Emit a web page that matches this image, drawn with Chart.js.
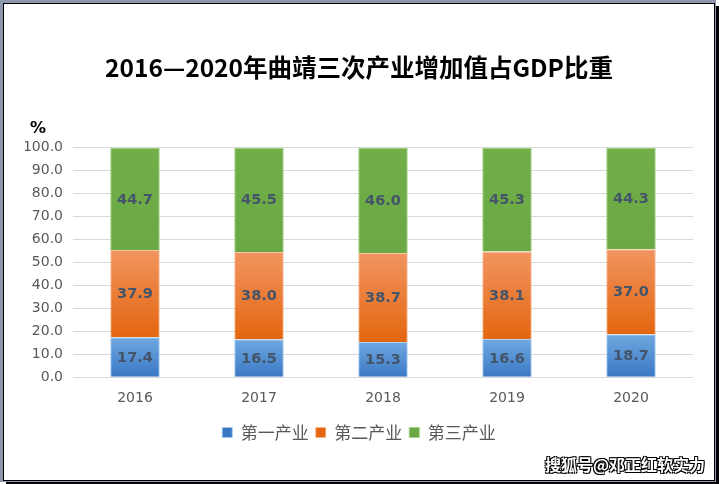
<!DOCTYPE html>
<html>
<head>
<meta charset="utf-8">
<script src="https://cdn.jsdelivr.net/npm/chart.js@4"></script>
<style>
    body { margin: 0; background: #fff; }
    #wrap { position: relative; width: 719px; height: 484px; overflow: hidden; }
    .shadow { position: absolute; left: 6px; top: 6px; width: 713px; height: 478px; background: #000; }
    .frame { position: absolute; left: 0; top: 0; width: 716px; height: 482px; background: #8e96ad; }
    .inner { position: absolute; left: 3px; top: 3px; width: 710px; height: 476px; background: #fff; border: 1px solid #000; }
    #chartBox { position: absolute; left: 4px; top: 4px; width: 710px; height: 476px; }
    .mark {
        position: absolute; right: 14px; bottom: 8px;
        font: bold 16px "Noto Sans CJK SC", sans-serif; color: #fff;
        text-shadow: -1px -1px 0 #000, 1px -1px 0 #000, -1px 1px 0 #000, 1px 1px 0 #000;
    }
</style>
</head>
<body>
<div id="wrap">
    <div class="shadow"></div>
    <div class="frame"></div>
    <div class="inner"></div>
    <div id="chartBox"><canvas id="chart" width="710" height="476"></canvas></div>
    <div class="mark">搜狐号@邓正红软实力</div>
</div>
<script>
// 数据
const years = ['2016', '2017', '2018', '2019', '2020'];
const seriesNames = ['第一产业', '第二产业', '第三产业'];
const primary = [17.4, 16.5, 15.3, 16.6, 18.7];
const secondary = [37.9, 38.0, 38.7, 38.1, 37.0];
const tertiary = [44.7, 45.5, 46.0, 45.3, 44.3];
const yMin = 0, yMax = 100, yStep = 10;

const allSeries = [primary, secondary, tertiary];

// degradado por segmento (arriba claro, abajo oscuro)
function segGradient(top, bottom, mid) {
    return function(c) {
        const chart = c.chart;
        if (!chart.chartArea || c.type !== 'data') return mid;
        const y = chart.scales.y;
        const i = c.dataIndex, d = c.datasetIndex;
        let base = 0;
        for (let k = 0; k < d; k++) base += allSeries[k][i];
        const y0 = y.getPixelForValue(base);
        const y1 = y.getPixelForValue(base + allSeries[d][i]);
        const g = chart.ctx.createLinearGradient(0, y1, 0, y0);
        g.addColorStop(0, top);
        g.addColorStop(1, bottom);
        return g;
    };
}

// etiquetas dentro de las barras + "%"
const labelsPlugin = {
    id: 'barLabels',
    afterDatasetsDraw(chart) {
        const ctx = chart.ctx;
        ctx.save();
        ctx.font = 'bold 14.5px "DejaVu Sans", sans-serif';
        ctx.fillStyle = '#44546a';
        ctx.textAlign = 'center';
        ctx.textBaseline = 'middle';
        chart.data.datasets.forEach((ds, d) => {
            chart.getDatasetMeta(d).data.forEach((el, i) => {
                ctx.fillText(ds.data[i].toFixed(1), el.x, (el.y + el.base) / 2 + 1);
            });
        });
        const y = chart.scales.y;
        ctx.font = 'bold 16px "DejaVu Sans", sans-serif';
        ctx.fillStyle = '#000';
        ctx.fillText('%', y.left + 13, y.top - 19);
        ctx.restore();
    }
};

const ctx = document.getElementById('chart').getContext('2d');
new Chart(ctx, {
    type: 'bar',
    data: {
        labels: years,
        datasets: [
            {
                label: seriesNames[0], data: primary,
                backgroundColor: segGradient('#6fa8e0', '#3a78c4', '#4a8ad6'),
                borderColor: 'rgba(160,200,240,0.8)', borderWidth: 1
            },
            {
                label: seriesNames[1], data: secondary,
                backgroundColor: segGradient('#f19460', '#e4660f', '#f07a22'),
                borderColor: 'rgba(245,180,140,0.8)', borderWidth: 1
            },
            {
                label: seriesNames[2], data: tertiary,
                backgroundColor: segGradient('#70ae48', '#6aa943', '#6fac46'),
                borderColor: 'rgba(160,210,130,0.9)', borderWidth: 1
            }
        ]
    },
    options: {
        responsive: false,
        animation: false,
        layout: { padding: { left: 21, right: 21, bottom: 29 } },
        datasets: { bar: { categoryPercentage: 1, barPercentage: 0.4 } },
        plugins: {
            title: {
                display: true,
                text: '2016—2020年曲靖三次产业增加值占GDP比重',
                color: '#000',
                font: { family: '"Noto Sans CJK SC", sans-serif', size: 24.5, weight: 'bold' },
                padding: { top: 49, bottom: 65 }
            },
            legend: {
                position: 'bottom',
                labels: {
                    boxWidth: 10, boxHeight: 10,
                    color: '#595959',
                    font: { family: '"Noto Sans CJK SC", sans-serif', size: 17 },
                    padding: 7
                }
            },
            tooltip: { enabled: false }
        },
        scales: {
            x: {
                stacked: true,
                grid: { display: false },
                border: { display: false },
                ticks: { color: '#595959', font: { family: '"DejaVu Sans", sans-serif', size: 14 }, padding: 5 },
                afterFit: s => { s.height += 5; }
            },
            y: {
                stacked: true,
                min: yMin, max: yMax,
                grid: { color: '#d9d9d9', drawTicks: false },
                border: { display: false },
                ticks: {
                    stepSize: yStep,
                    color: '#595959',
                    font: { family: '"DejaVu Sans", sans-serif', size: 14 },
                    padding: 10,
                    callback: v => v.toFixed(1)
                },
                afterFit: s => { s.width = 48; }
            }
        }
    },
    plugins: [labelsPlugin]
});
</script>
</body>
</html>
